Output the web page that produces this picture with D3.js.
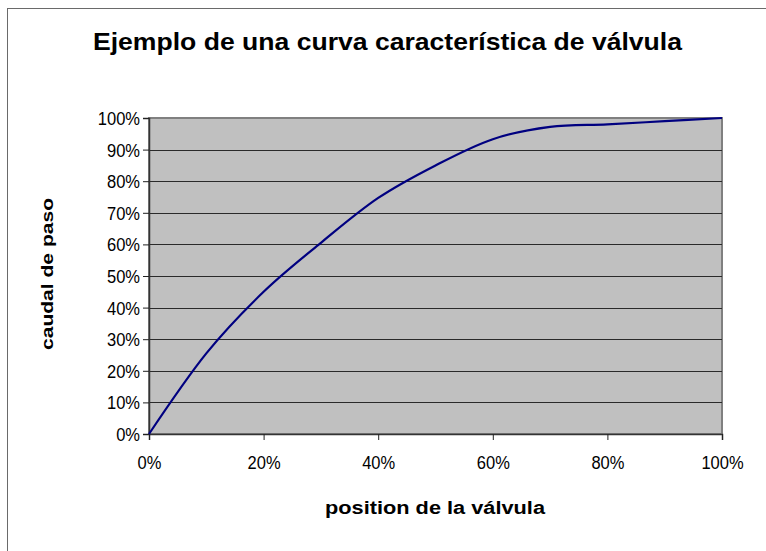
<!DOCTYPE html>
<html>
<head>
<meta charset="utf-8">
<script src="https://cdn.jsdelivr.net/npm/d3@7"></script>
<style>
  body { margin: 0; background: #fff; }
  svg { display: block; font-family: Arial, "Liberation Sans", sans-serif; }
</style>
</head>
<body>
<div id="chart"></div>
<script>
// data (valve position vs flow, both in %)
var posicion = [0, 10, 20, 30, 40, 50, 60, 70, 80, 90, 100];
var caudal   = [0, 25.5, 45, 60.5, 74.7, 85, 93.3, 97.2, 98, 99, 100];
var yTicks = [0, 10, 20, 30, 40, 50, 60, 70, 80, 90, 100];
var xTicks = [0, 20, 40, 60, 80, 100];

var data = posicion.map(function(p, i) { return {x: p, y: caudal[i]}; });

var W = 766, H = 551;
var plot = {left: 149, top: 118, right: 722, bottom: 434};

var svg = d3.select("#chart").append("svg")
  .attr("width", W)
  .attr("height", H);

// outer chart border (runs past right/bottom edge)
svg.append("rect")
  .attr("x", 7.5).attr("y", 8.5)
  .attr("width", 800).attr("height", 600)
  .attr("fill", "#fff")
  .attr("stroke", "#6a6a6a");

var x = d3.scaleLinear().domain([0, 100]).range([plot.left, plot.right]);
var y = d3.scaleLinear().domain([0, 100]).range([plot.bottom, plot.top]);

// plot area
svg.append("rect")
  .attr("x", plot.left).attr("y", plot.top)
  .attr("width", plot.right - plot.left)
  .attr("height", plot.bottom - plot.top)
  .attr("fill", "#c0c0c0")
  .attr("stroke", "#808080")
  .attr("stroke-width", 2);

// gridlines
svg.append("g").selectAll("line")
  .data(yTicks.filter(function(d) { return d > 0 && d < 100; }))
  .enter().append("line")
    .attr("x1", plot.left).attr("x2", plot.right)
    .attr("y1", function(d) { return Math.round(y(d)) + 0.5; })
    .attr("y2", function(d) { return Math.round(y(d)) + 0.5; })
    .attr("stroke", "#2a2a2a")
    .attr("stroke-width", 1);

// axes
var yAxis = svg.append("g")
  .attr("transform", "translate(" + plot.left + ",0)")
  .call(d3.axisLeft(y).tickValues(yTicks).tickSize(6).tickPadding(3)
    .tickFormat(function(d) { return d + "%"; }));

var xAxis = svg.append("g")
  .attr("transform", "translate(0," + plot.bottom + ")")
  .call(d3.axisBottom(x).tickValues(xTicks).tickSize(6).tickPadding(13)
    .tickFormat(function(d) { return d + "%"; }));

[yAxis, xAxis].forEach(function(a) {
  a.select(".domain").attr("stroke", "#333").attr("stroke-width", 1.5);
  a.selectAll(".tick line").attr("stroke", "#222");
  a.selectAll("text")
    .attr("fill", "#000")
    .style("font-size", "16.5px")
    .style("font-family", "Arial, 'Liberation Sans', sans-serif")
    .each(function() {
      // keep the width, make glyphs a bit taller like the original
      var w = this.getComputedTextLength();
      d3.select(this)
        .style("font-size", "18px")
        .attr("textLength", w)
        .attr("lengthAdjust", "spacingAndGlyphs");
    });
});
yAxis.selectAll("text").attr("dy", "0.36em");
xAxis.selectAll("text").attr("dy", "0.9em");

// curve
var line = d3.line()
  .x(function(d) { return x(d.x); })
  .y(function(d) { return y(d.y); })
  .curve(d3.curveCardinal.tension(0));

svg.append("path")
  .datum(data)
  .attr("d", line)
  .attr("fill", "none")
  .attr("stroke", "#000080")
  .attr("stroke-width", 2.2);

// titles (stretched horizontally like the original)
svg.append("text")
  .attr("x", 387.5).attr("y", 50)
  .attr("text-anchor", "middle")
  .attr("textLength", 589)
  .attr("lengthAdjust", "spacingAndGlyphs")
  .style("font-size", "24px")
  .style("font-weight", "bold")
  .text("Ejemplo de una curva característica de válvula");

svg.append("text")
  .attr("x", 435).attr("y", 514)
  .attr("text-anchor", "middle")
  .attr("textLength", 220)
  .attr("lengthAdjust", "spacingAndGlyphs")
  .style("font-size", "18px")
  .style("font-weight", "bold")
  .text("position de la válvula");

svg.append("text")
  .attr("transform", "translate(53,274) rotate(-90)")
  .attr("text-anchor", "middle")
  .attr("textLength", 152)
  .attr("lengthAdjust", "spacingAndGlyphs")
  .style("font-size", "17px")
  .style("font-weight", "bold")
  .text("caudal de paso");
</script>
</body>
</html>
